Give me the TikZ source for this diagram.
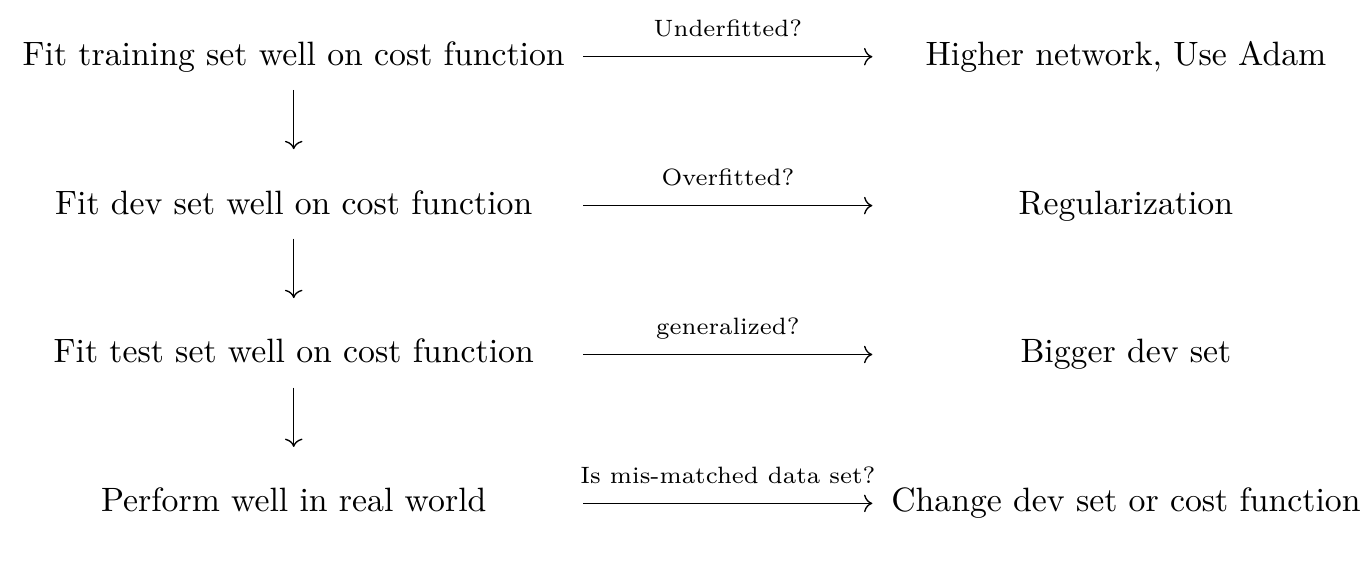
\documentclass[tikz,border=0pt]{standalone}
\usepackage{amsmath}
\usepackage{amssymb}
\usetikzlibrary{cd}

\begin{document}
\begin{tikzpicture}[x=1pt,y=1pt,>=cm to,
    stage/.style={minimum width=171.2pt, text height=7pt, text depth=2pt, inner sep=0pt, anchor=base},
    remedy/.style={minimum width=149.8pt, text height=7pt, text depth=2pt, inner sep=0pt, anchor=base},
    check/.style={font=\scriptsize, midway, anchor=base, yshift=5.9pt}]
      \useasboundingbox (0,0) rectangle (405.8,-171.2);
      \node[stage] (fittrain) at (87,-19.3) {Fit training set well on cost function};
      \node[stage] (fitdev) at (87,-63.4) {Fit dev set well on cost function};
      \node[stage] (fittest) at (87,-107.5) {Fit test set well on cost function};
      \node[stage] (realworld) at (87,-151.6) {Perform well in real world};
      \node[remedy] (bigger) at (333.5,-19.3) {Higher network, Use Adam};
      \node[remedy] (regular) at (333.5,-63.4) {Regularization};
      \node[remedy] (moredev) at (333.5,-107.5) {Bigger dev set};
      \node[remedy] (changedev) at (333.5,-151.6) {Change dev set or cost function};
      \draw[->] (fittrain.east) -- (bigger.west) node[check] {Underfitted?};
      \draw[->] (fitdev.east) -- (regular.west) node[check] {Overfitted?};
      \draw[->] (fittest.east) -- (moredev.west) node[check] {generalized?};
      \draw[->] (realworld.east) -- (changedev.west) node[check] {Is mis-matched data set?};
      \draw[->,shorten <=5.1pt,shorten >=12pt] (fittrain) -- (fitdev);
      \draw[->,shorten <=5.1pt,shorten >=12pt] (fitdev) -- (fittest);
      \draw[->,shorten <=5.1pt,shorten >=12pt] (fittest) -- (realworld);
\end{tikzpicture}
\end{document}
